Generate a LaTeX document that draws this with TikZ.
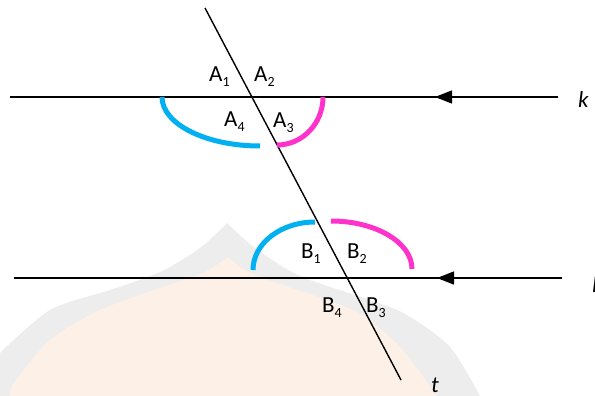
\documentclass[tikz,border=0pt]{standalone}
\usepackage{fontspec}
\setmainfont{Carlito}
\usetikzlibrary{arrows.meta}
\definecolor{arccyan}{HTML}{00B0F0}
\definecolor{arcmag}{HTML}{FF33CC}
\definecolor{wmgrey}{HTML}{EDEDED}
\definecolor{wmpeach}{HTML}{FDF1E7}
\newcommand{\lab}[2]{#1{\fontsize{14}{15}\selectfont\raisebox{-5pt}{#2}}}
\begin{document}
\begin{tikzpicture}[x=1pt,y=-1pt,
  thinline/.style={line width=1.4pt, black},
  arrowline/.style={line width=1.4pt, black, -{Triangle[length=17pt,width=13pt]}},
  cyanarc/.style={line width=5pt, arccyan},
  magarc/.style={line width=5pt, arcmag},
  angle label/.style={anchor=base west, inner sep=0pt, font=\fontsize{23}{25}\selectfont},
  line label/.style={anchor=base west, inner sep=0pt, font=\fontsize{23}{25}\selectfont\itshape}]
\useasboundingbox (0,0) rectangle (595,396);
\clip (0,0) rectangle (595,396);
% watermark
\fill[wmgrey] plot[smooth] coordinates {(0,353) (50,310) (110,290) (160,272) (200,248) (227,223)}
  -- plot[smooth] coordinates {(227,223) (255,248) (300,276) (370,300) (407,315) (450,347) (480,396)}
  -- (0,396) -- cycle;
\fill[wmpeach] plot[smooth] coordinates {(10,396) (14,383) (50,340) (100,310) (160,288) (205,272) (228,257)}
  -- plot[smooth] coordinates {(228,257) (255,275) (330,301) (362,315) (400,347) (437,396)} -- cycle;
% coordinates
\coordinate (k1) at (10,97);
\coordinate (k2) at (558,97);
\coordinate (ka) at (435,97);
\coordinate (l1) at (14,278);
\coordinate (l2) at (562,278);
\coordinate (la) at (437,278);
\coordinate (t1) at (205,8);
\coordinate (t2) at (401,380);
% lines
\draw[thinline] (k2) -- (k1);
\draw[arrowline] (k2) -- (ka);
\draw[thinline] (l2) -- (l1);
\draw[arrowline] (l2) -- (la);
\draw[thinline] (t1) -- (t2);
% arcs
\coordinate (a4s) at (162,97);
\coordinate (a3s) at (323,97);
\coordinate (b1s) at (253,270);
\coordinate (b2s) at (331,221);
\draw[cyanarc] (a4s) arc[start angle=180, end angle=90, x radius=98, y radius=49];
\draw[magarc] (a3s) arc[start angle=0, end angle=90, x radius=46, y radius=48];
\draw[cyanarc] (b1s) arc[start angle=180, end angle=270, x radius=62, y radius=48];
\draw[magarc] (b2s) arc[start angle=270, end angle=360, x radius=81, y radius=48];
% labels
\node[angle label] (A1) at (209,82) {\lab{A}{1}};
\node[angle label] (A2) at (254,82) {\lab{A}{2}};
\node[angle label] (A4) at (224,127) {\lab{A}{4}};
\node[angle label] (A3) at (273,128) {\lab{A}{3}};
\node[angle label] (B1) at (301,258) {\lab{B}{1}};
\node[angle label] (B2) at (347,258) {\lab{B}{2}};
\node[angle label] (B4) at (322,312) {\lab{B}{4}};
\node[angle label] (B3) at (366,312) {\lab{B}{3}};
\node[line label] (k) at (578,108) {k};
\node[line label] (l) at (592,292) {l};
\node[line label] (t) at (431,392) {t};
\end{tikzpicture}
\end{document}
